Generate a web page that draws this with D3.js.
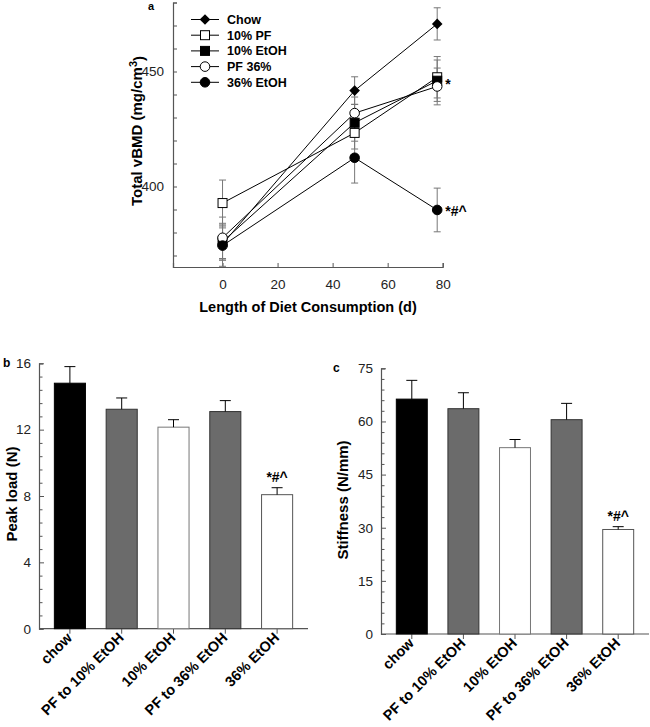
<!DOCTYPE html>
<html>
<head>
<meta charset="utf-8">
<script src="https://d3js.org/d3.v7.min.js"></script>
<style>
  body { margin: 0; background: #fff; }
  text { font-family: Arial, "Liberation Sans", sans-serif; }
</style>
</head>
<body>
<div id="chart"></div>
<script>
// ---- panel a data ----
var days = [0, 48, 78];
var seriesNames = ["Chow", "10% PF", "10% EtOH", "PF 36%", "36% EtOH"];
var seriesSymbols = ["diamond", "openSquare", "square", "openCircle", "circle"];
var vbmdChow = [375, 441.7, 470.7];
var vbmdPF10 = [392.8, 423.3, 447.5];
var vbmdEtOH10 = [376, 427.7, 446];
var vbmdPF36 = [377.7, 431.9, 443.5];
var vbmdEtOH36 = [374.3, 412.5, 389.8];
var errChow = [7, 6, 7];
var errPF10 = [10, 7, 9];
var errEtOH10 = [8, 8, 9];
var errPF36 = [9, 7, 8];
var errEtOH36 = [9, 11, 9.5];
var vbmdYTicks = [400, 450];
var vbmdXTicks = [0, 20, 40, 60, 80];

// ---- panels b, c data ----
var groups = ["chow", "PF to 10% EtOH", "10% EtOH", "PF to 36% EtOH", "36% EtOH"];
var groupFill = ["#000000", "#6b6b6b", "#ffffff", "#6b6b6b", "#ffffff"];
var groupStroke = ["#000000", "#333333", "#777777", "#333333", "#555555"];
var peakLoad = [14.8, 13.23, 12.15, 13.09, 8.08];
var peakLoadErr = [1.0, 0.68, 0.45, 0.66, 0.42];
var peakTicks = [0, 4, 8, 12, 16];
var stiffness = [66.3, 63.6, 52.6, 60.5, 29.5];
var stiffnessErr = [5.3, 4.5, 2.3, 4.6, 0.8];
var stiffTicks = [0, 15, 30, 45, 60, 75];

var svg = d3.select("#chart").append("svg")
  .attr("width", 650)
  .attr("height", 727);

var axisColor = "#555";

// =================== panel a ===================
var xA = d3.scaleLinear().domain([-18, 80]).range([173, 442.7]);
var yA = d3.scaleLinear().domain([365, 480]).range([267, 2.5]);

var gA = svg.append("g");

// axes (ticks pointing inward like the original)
var yAxisA = gA.append("g")
  .attr("transform", "translate(173,0)")
  .call(d3.axisLeft(yA).tickValues(d3.range(370, 481, 10)).tickSize(-4).tickFormat(function(d) { return vbmdYTicks.indexOf(d) >= 0 ? d : ""; }).tickPadding(9));
var xAxisA = gA.append("g")
  .attr("transform", "translate(0,267)")
  .call(d3.axisBottom(xA).tickValues(vbmdXTicks).tickSize(-4).tickPadding(12));
[yAxisA, xAxisA].forEach(function(ax) {
  ax.select(".domain").attr("stroke", axisColor).attr("stroke-width", 1.2);
  ax.selectAll(".tick line").attr("stroke", axisColor);
  ax.selectAll(".tick text").style("font-size", "13.5px").attr("fill", "#222");
});

var seriesA = [
  {name: seriesNames[0], sym: seriesSymbols[0], v: vbmdChow, e: errChow},
  {name: seriesNames[1], sym: seriesSymbols[1], v: vbmdPF10, e: errPF10},
  {name: seriesNames[2], sym: seriesSymbols[2], v: vbmdEtOH10, e: errEtOH10},
  {name: seriesNames[3], sym: seriesSymbols[3], v: vbmdPF36, e: errPF36},
  {name: seriesNames[4], sym: seriesSymbols[4], v: vbmdEtOH36, e: errEtOH36}
];

function drawSymbol(g, sym, cx, cy) {
  var open = sym.indexOf("open") === 0;
  var fill = open ? "#fff" : "#000";
  if (sym === "diamond") {
    g.append("path")
      .attr("d", d3.symbol().type(d3.symbolSquare).size(56)())
      .attr("transform", "translate(" + cx + "," + cy + ") rotate(45)")
      .attr("fill", "#000");
  } else if (sym === "square" || sym === "openSquare") {
    g.append("rect").attr("x", cx - 4.5).attr("y", cy - 4.5).attr("width", 9).attr("height", 9)
      .attr("fill", fill).attr("stroke", "#000").attr("stroke-width", 1);
  } else {
    g.append("circle").attr("cx", cx).attr("cy", cy).attr("r", 4.8)
      .attr("fill", fill).attr("stroke", "#000").attr("stroke-width", 1);
  }
}

// error bars first (gray)
seriesA.forEach(function(s) {
  days.forEach(function(d, i) {
    var x = xA(d);
    gA.append("line").attr("x1", x).attr("x2", x)
      .attr("y1", yA(s.v[i] - s.e[i])).attr("y2", yA(s.v[i] + s.e[i]))
      .attr("stroke", "#777").attr("stroke-width", 1);
    [s.v[i] - s.e[i], s.v[i] + s.e[i]].forEach(function(c) {
      gA.append("line").attr("x1", x - 3.5).attr("x2", x + 3.5)
        .attr("y1", yA(c)).attr("y2", yA(c))
        .attr("stroke", "#777").attr("stroke-width", 1);
    });
  });
});

var line = d3.line()
  .x(function(d, i) { return xA(days[i]); })
  .y(function(d) { return yA(d); });

seriesA.forEach(function(s) {
  gA.append("path").attr("d", line(s.v)).attr("fill", "none")
    .attr("stroke", "#000").attr("stroke-width", 1);
});
seriesA.forEach(function(s) {
  days.forEach(function(d, i) {
    drawSymbol(gA, s.sym, xA(d), yA(s.v[i]));
  });
});

// significance marks
gA.append("text").attr("x", xA(days[2]) + 8).attr("y", yA(vbmdEtOH10[2]) + 8)
  .text("*").style("font-size", "14px").style("font-weight", "bold");
gA.append("text").attr("x", xA(days[2]) + 8).attr("y", yA(vbmdEtOH36[2]) + 6)
  .text("*#^").style("font-size", "14px").style("font-weight", "bold");

// legend
seriesA.forEach(function(s, i) {
  var ly = 19.5 + i * 15.7;
  gA.append("line").attr("x1", 191).attr("x2", 219).attr("y1", ly).attr("y2", ly)
    .attr("stroke", "#000").attr("stroke-width", 1);
  drawSymbol(gA, s.sym, 205, ly);
  gA.append("text").attr("x", 227).attr("y", ly).attr("dy", "0.36em")
    .text(s.name).style("font-size", "12.5px").style("font-weight", "bold");
});

// titles
gA.append("text").attr("x", 148).attr("y", 10).text("a")
  .style("font-size", "11px").style("font-weight", "bold");
gA.append("text").attr("x", 308).attr("y", 312).attr("text-anchor", "middle")
  .text("Length of Diet Consumption (d)").style("font-size", "14.5px").style("font-weight", "bold");
var yTitleA = gA.append("text").attr("transform", "translate(142,131) rotate(-90)")
  .attr("text-anchor", "middle").style("font-size", "15px").style("font-weight", "bold");
yTitleA.append("tspan").text("Total vBMD (mg/cm");
yTitleA.append("tspan").text("3").attr("dy", "-0.5em").style("font-size", "11px");
yTitleA.append("tspan").text(")").attr("dy", "0.5em");

// =================== bar panels ===================
function barPanel(opts) {
  var g = svg.append("g");
  var x = d3.scaleBand().domain(groups).range([opts.x0 + 5, opts.x1 - 5])
    .paddingInner(0.4).paddingOuter(0.2);
  var y = d3.scaleLinear().domain([0, opts.max]).range([opts.yBottom, opts.yTop]);

  var minorStep = opts.major / 5;
  var yAxis = g.append("g").attr("transform", "translate(" + opts.x0 + ",0)")
    .call(d3.axisLeft(y).tickValues(d3.range(0, opts.max + minorStep / 2, minorStep))
      .tickSize(-4).tickPadding(8)
      .tickFormat(function(d) { return opts.ticks.some(function(t) { return Math.abs(t - d) < 1e-6; }) ? d : ""; }));
  yAxis.selectAll(".tick line").attr("x2", function(d) {
    return opts.ticks.some(function(t) { return Math.abs(t - d) < 1e-6; }) ? 5 : 3.5;
  });
  var xAxis = g.append("g").attr("transform", "translate(0," + opts.yBottom + ")")
    .call(d3.axisBottom(x).tickSize(5).tickFormat(""));
  xAxis.select(".domain").attr("d", "M" + opts.x0 + ",0H" + opts.x1);
  [yAxis, xAxis].forEach(function(ax) {
    ax.select(".domain").attr("stroke", axisColor).attr("stroke-width", 1.2);
    ax.selectAll(".tick line").attr("stroke", axisColor);
    ax.selectAll(".tick text").style("font-size", "13.5px").attr("fill", "#222");
  });

  // bars
  g.selectAll(".bar").data(opts.values).enter().append("rect")
    .attr("x", function(d, i) { return x(groups[i]); })
    .attr("y", function(d) { return y(d); })
    .attr("width", x.bandwidth())
    .attr("height", function(d) { return opts.yBottom - y(d); })
    .attr("fill", function(d, i) { return groupFill[i]; })
    .attr("stroke", function(d, i) { return groupStroke[i]; })
    .attr("stroke-width", 1);

  // error bars (upward only)
  opts.values.forEach(function(v, i) {
    var cx = x(groups[i]) + x.bandwidth() / 2;
    g.append("line").attr("x1", cx).attr("x2", cx)
      .attr("y1", y(v)).attr("y2", y(v + opts.errors[i])).attr("stroke", "#000");
    g.append("line").attr("x1", cx - 5.5).attr("x2", cx + 5.5)
      .attr("y1", y(v + opts.errors[i])).attr("y2", y(v + opts.errors[i])).attr("stroke", "#000");
  });

  var last = groups.length - 1;
  g.append("text")
    .attr("x", x(groups[last]) + x.bandwidth() / 2)
    .attr("y", y(opts.values[last] + opts.errors[last]) - 6)
    .attr("text-anchor", "middle").text("*#^")
    .style("font-size", "14px").style("font-weight", "bold");

  // rotated category labels
  groups.forEach(function(name, i) {
    var cx = x(name) + x.bandwidth() / 2 + 3;
    g.append("text")
      .attr("transform", "translate(" + cx + "," + (opts.yBottom + 10) + ") rotate(-45)")
      .attr("text-anchor", "end").text(name)
      .style("font-size", "14.5px").style("font-weight", "bold");
  });

  g.append("text").attr("x", opts.labelX).attr("y", opts.yTop + 4).text(opts.label)
    .style("font-size", "12px").style("font-weight", "bold");
  g.append("text").attr("transform", "translate(" + opts.titleX + "," + opts.titleY + ") rotate(-90)")
    .attr("text-anchor", "middle").text(opts.title)
    .style("font-size", "15px").style("font-weight", "bold");
}

barPanel({x0: 39, x1: 308, yTop: 363.3, yBottom: 628.7, max: 16, major: 4, ticks: peakTicks,
  values: peakLoad, errors: peakLoadErr, label: "b", labelX: 3, title: "Peak load (N)", titleX: 17, titleY: 494});
barPanel({x0: 381, x1: 649, yTop: 368.3, yBottom: 634, max: 75, major: 15, ticks: stiffTicks,
  values: stiffness, errors: stiffnessErr, label: "c", labelX: 333, title: "Stiffness (N/mm)", titleX: 348, titleY: 500});
</script>
</body>
</html>
